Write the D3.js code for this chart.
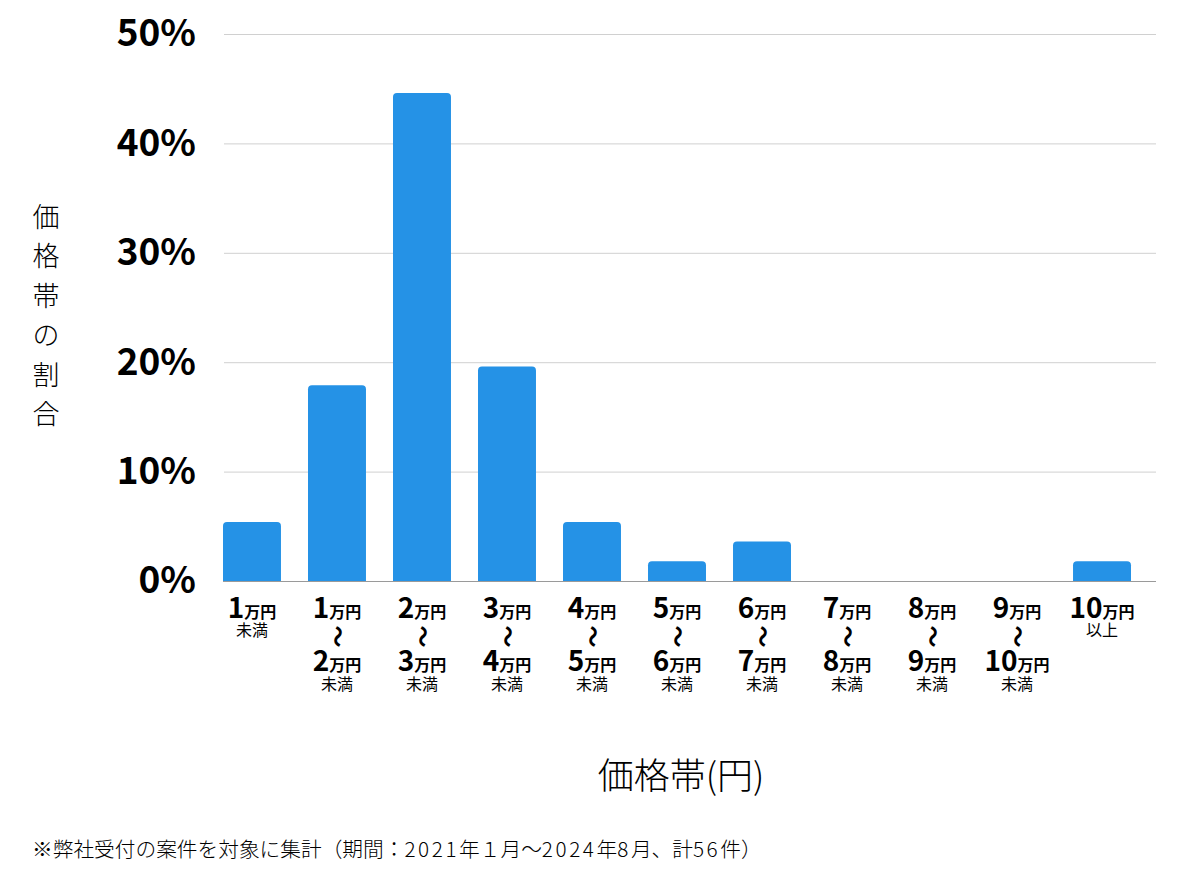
<!DOCTYPE html>
<html>
<head>
<meta charset="utf-8">
<script src="https://cdn.jsdelivr.net/npm/d3@7"></script>
<style>
  body { margin: 0; background: #fff; }
  svg { font-family: "Noto Sans CJK JP", "Noto Sans", sans-serif; }
</style>
</head>
<body>
<div id="chart"></div>
<script>
// price bands (yen), share of cases in percent (56 cases total)
const categories = ["1万円未満", "1〜2万円", "2〜3万円", "3〜4万円", "4〜5万円", "5〜6万円",
                    "6〜7万円", "7〜8万円", "8〜9万円", "9〜10万円", "10万円以上"];
const values = [5.4, 17.9, 44.6, 19.6, 5.4, 1.8, 3.6, 0, 0, 0, 1.8];
const topNums = ["1", "1", "2", "3", "4", "5", "6", "7", "8", "9", "10"];
const bottomNums = [null, "2", "3", "4", "5", "6", "7", "8", "9", "10", null];
const notes = ["未満", "未満", "未満", "未満", "未満", "未満", "未満", "未満", "未満", "未満", "以上"];
const yTicks = [0, 10, 20, 30, 40, 50];

const svgWidth = 1200, svgHeight = 874;
const svg = d3.select("#chart").append("svg")
  .attr("width", svgWidth)
  .attr("height", svgHeight);

const plotLeft = 224, plotRight = 1156, plotTop = 34, plotBottom = 581;

const x = d3.scaleBand()
  .domain(categories)
  .range([223, 1131])
  .paddingInner(0.318)
  .paddingOuter(0);

const y = d3.scaleLinear().domain([0, 50]).range([plotBottom, plotTop]);

// grid + y labels
const yAxis = svg.append("g")
  .attr("transform", "translate(" + plotLeft + ",0)")
  .call(d3.axisLeft(y).tickValues(yTicks).tickSize(-(plotRight - plotLeft)).tickPadding(28)
    .tickFormat(d => d + "%"));
yAxis.select(".domain").remove();
yAxis.selectAll(".tick line").attr("stroke", "#d0d0d0").attr("stroke-width", 1);
yAxis.selectAll(".tick text")
  .attr("font-size", 37).attr("font-weight", "bold").attr("fill", "#000")
  .attr("font-family", '"Noto Sans CJK JP", sans-serif');

// bars with rounded tops
const r = 4;
svg.append("g").selectAll("path")
  .data(values.map((v, i) => ({cat: categories[i], v: v})).filter(d => d.v > 0))
  .enter().append("path")
  .attr("fill", "#2592e6")
  .attr("d", d => {
    const x0 = x(d.cat), w = x.bandwidth(), y0 = y(d.v);
    return "M" + x0 + "," + plotBottom + "V" + (y0 + r) + "Q" + x0 + "," + y0 + " " + (x0 + r) + "," + y0 +
      "H" + (x0 + w - r) + "Q" + (x0 + w) + "," + y0 + " " + (x0 + w) + "," + (y0 + r) + "V" + plotBottom + "Z";
  });

// baseline
svg.append("line")
  .attr("x1", plotLeft - 1).attr("x2", plotRight)
  .attr("y1", plotBottom + 0.5).attr("y2", plotBottom + 0.5)
  .attr("stroke", "#9a9a9a").attr("stroke-width", 1);

// x tick labels
const xl = svg.append("g").selectAll("g")
  .data(categories)
  .enter().append("g")
  .attr("transform", d => "translate(" + (x(d) + x.bandwidth() / 2) + ",0)");

function amount(g, num, yy) {
  const t = g.append("text").attr("y", yy).attr("text-anchor", "middle")
    .attr("font-weight", "bold").attr("fill", "#000");
  t.append("tspan").attr("font-size", 28).text(num);
  t.append("tspan").attr("font-size", 16).text("万円");
}

xl.each(function(d, i) {
  const g = d3.select(this);
  amount(g, topNums[i], 618);
  if (bottomNums[i] === null) {
    g.append("text").attr("y", 636).attr("text-anchor", "middle")
      .attr("font-size", 16).attr("fill", "#000").text(notes[i]);
  } else {
    g.append("text")
      .attr("transform", "translate(0,636.5) rotate(90)")
      .attr("text-anchor", "middle").attr("dy", "0.33em")
      .attr("font-size", 22).attr("font-weight", "bold").attr("fill", "#000")
      .text("〜");
    amount(g, bottomNums[i], 671);
    g.append("text").attr("y", 690).attr("text-anchor", "middle")
      .attr("font-size", 16).attr("fill", "#000").text(notes[i]);
  }
});

// y axis title (vertical)
const yTitle = "価格帯の割合".split("");
svg.append("g").selectAll("text")
  .data(yTitle)
  .enter().append("text")
  .attr("x", 46)
  .attr("y", (d, i) => 217 + i * 39.5)
  .attr("dy", "0.36em")
  .attr("text-anchor", "middle")
  .attr("font-size", 27)
  .attr("font-weight", 300)
  .attr("fill", "#000")
  .text(d => d);

// x axis title
svg.append("text")
  .attr("x", 681).attr("y", 776).attr("dy", "0.35em")
  .attr("text-anchor", "middle")
  .attr("font-size", 36).attr("font-weight", 300).attr("fill", "#000")
  .text("価格帯(円)");

// footnote (digits a bit wider, as in the original font)
const footnote = "※弊社受付の案件を対象に集計（期間：2021年１月〜2024年8月、計56件）";
const fn = svg.append("text")
  .attr("x", 32).attr("y", 850).attr("dy", "0.35em")
  .attr("font-size", 20.7).attr("font-weight", 300).attr("fill", "#000");
fn.selectAll("tspan")
  .data(footnote.split(/([0-9]+)/).filter(s => s.length))
  .enter().append("tspan")
  .attr("letter-spacing", s => /^[0-9]+$/.test(s) ? 2.6 : 0)
  .text(s => s);
</script>
</body>
</html>
